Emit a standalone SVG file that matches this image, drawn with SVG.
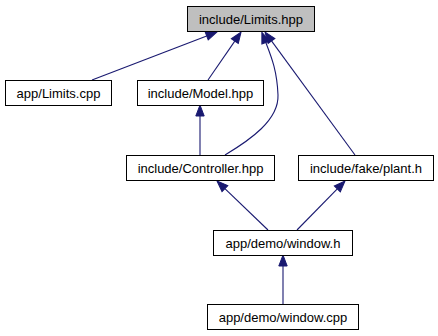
<svg xmlns="http://www.w3.org/2000/svg" width="438" height="336" viewBox="0 0 438 336">
  <style>
    .node rect { fill: #ffffff; stroke: #000000; stroke-width: 1; }
    .node.current rect { fill: #bfbfbf; }
    .node text { font-family: "Liberation Sans", Arial, sans-serif; font-size: 13px; fill: #000000; text-anchor: middle; }
    .edge { fill: none; stroke: #191970; stroke-width: 1.1; marker-end: url(#head); }
  </style>
  <defs>
    <marker id="head" markerUnits="userSpaceOnUse" markerWidth="12" markerHeight="10" refX="0" refY="4.2" orient="auto" overflow="visible">
      <path d="M0,0 L11,4.2 L0,8.4 z" fill="#191970" stroke="#191970" stroke-width="1"/>
    </marker>
  </defs>

  <g id="edges">
    <path class="edge" d="M92,80 L206.7,35.9"/>
    <path class="edge" d="M208,80 L234.8,41.1"/>
    <path class="edge" d="M225,155 C250,140 279,120 278,95 C277,70 271,56 265.8,42.5"/>
    <path class="edge" d="M355,155 L271.5,40.9"/>
    <path class="edge" d="M200,155 L200,116"/>
    <path class="edge" d="M268,230 L224.9,188.6"/>
    <path class="edge" d="M297,230 L337.3,188.9"/>
    <path class="edge" d="M283,304 L283,266"/>
  </g>

  <g id="node-limits-hpp" class="node current">
    <rect x="187.5" y="6.5" width="127" height="25"/>
    <text x="251" y="23.5">include/Limits.hpp</text>
  </g>
  <g id="node-limits-cpp" class="node">
    <rect x="5.5" y="80.5" width="106" height="25"/>
    <text x="58.5" y="97.5">app/Limits.cpp</text>
  </g>
  <g id="node-model-hpp" class="node">
    <rect x="137.5" y="80.5" width="126" height="25"/>
    <text x="200.5" y="97.5">include/Model.hpp</text>
  </g>
  <g id="node-controller-hpp" class="node">
    <rect x="126.5" y="155.5" width="148" height="25"/>
    <text x="200.5" y="172.5">include/Controller.hpp</text>
  </g>
  <g id="node-plant-h" class="node">
    <rect x="298.5" y="155.5" width="135" height="25"/>
    <text x="366" y="172.5">include/fake/plant.h</text>
  </g>
  <g id="node-window-h" class="node">
    <rect x="213.5" y="230.5" width="139" height="25"/>
    <text x="283" y="247.5">app/demo/window.h</text>
  </g>
  <g id="node-window-cpp" class="node">
    <rect x="207.5" y="304.5" width="151" height="25"/>
    <text x="283" y="321.5">app/demo/window.cpp</text>
  </g>
</svg>
